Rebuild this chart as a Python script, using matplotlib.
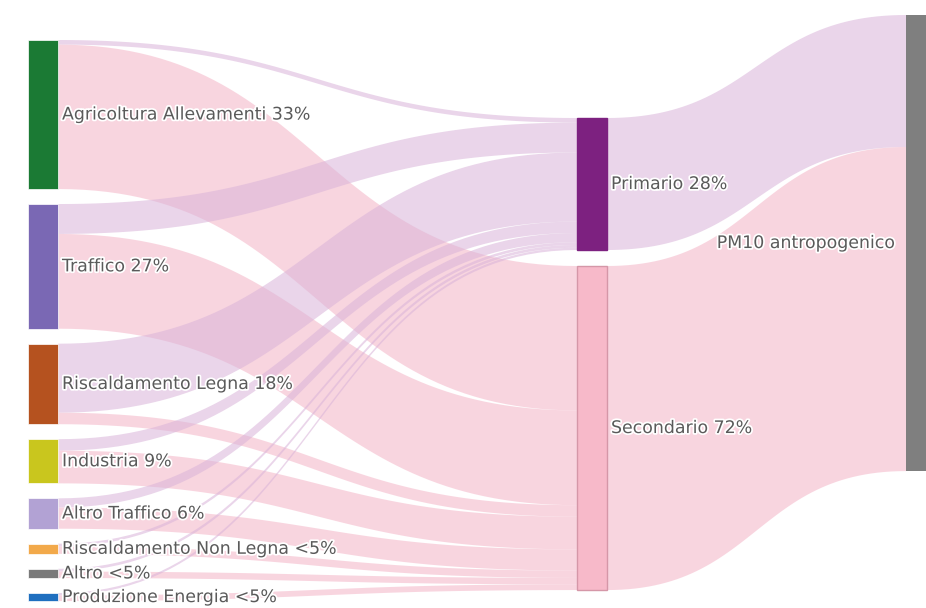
import numpy as np
import matplotlib.pyplot as plt
import matplotlib.patheffects as pe

# Sources (left column)
src_labels = ["Agricoltura Allevamenti 33%", "Traffico 27%", "Riscaldamento Legna 18%",
              "Industria 9%", "Altro Traffico 6%", "Riscaldamento Non Legna <5%",
              "Altro <5%", "Produzione Energia <5%"]
src_colors = ["#1b7a34", "#7a68b4", "#b5521f", "#c9c61e", "#b2a2d4", "#f2a94a",
              "#7a7a7a", "#1f6fbf"]
to_primario = [1.0, 6.5, 15.0, 2.5, 2.0, 0.6, 0.6, 0.5]
to_secondario = [31.4, 20.6, 2.5, 7.1, 4.6, 1.6, 1.4, 1.25]

# Middle and right nodes
mid_labels = ["Primario 28%", "Secondario 72%"]
mid_colors = ["#7d2180", "#f7b9c9"]
link_colors = ["#d9b3d9", "#f4b3c6"]
end_label = "PM10 antropogenico"
end_color = "#7f7f7f"

# layout (pixels)
W, H = 926, 608
scale = 4.6
node_w = 30
x_left, x_mid, x_right = 28, 577, 906
left_top, gap = 40, 15
mid_tops = [118, 266]
right_top = 15

fig = plt.figure(figsize=(W / 100, H / 100), dpi=100)
ax = fig.add_axes([0, 0, 1, 1])
ax.set_xlim(0, W)
ax.set_ylim(H, 0)
ax.axis("off")

halo = [pe.withStroke(linewidth=2.5, foreground="white")]
fs = 12.5
txt_col = "#5a5a5a"


def band(xa, ya0, ya1, xb, yb0, yb1, color):
    t = np.linspace(0, 1, 60)
    xm = (xa + xb) / 2
    bx = (1 - t) ** 3 * xa + 3 * (1 - t) ** 2 * t * xm + 3 * (1 - t) * t ** 2 * xm + t ** 3 * xb
    def by(p, q):
        return (1 - t) ** 3 * p + 3 * (1 - t) ** 2 * t * p + 3 * (1 - t) * t ** 2 * q + t ** 3 * q
    top = by(ya0, yb0)
    bot = by(ya1, yb1)
    ax.fill(np.concatenate([bx, bx[::-1]]), np.concatenate([top, bot[::-1]]),
            color=color, alpha=0.55, lw=0, zorder=1)


flows = np.array([to_primario, to_secondario]).T
src_tot = flows.sum(axis=1)
mid_tot = flows.sum(axis=0)

# left node positions
src_top = []
y = left_top
for v in src_tot:
    src_top.append(y)
    y += v * scale + gap

# links left -> middle
mid_cursor = list(mid_tops)
for i in range(len(src_labels)):
    yc = src_top[i]
    for j in range(2):
        h = flows[i, j] * scale
        band(x_left + node_w, yc, yc + h, x_mid, mid_cursor[j], mid_cursor[j] + h, link_colors[j])
        yc += h
        mid_cursor[j] += h

# links middle -> right
yr = right_top
for j in range(2):
    h = mid_tot[j] * scale
    band(x_mid + node_w, mid_tops[j], mid_tops[j] + h, x_right, yr, yr + h, link_colors[j])
    yr += h

# nodes
for i, lab in enumerate(src_labels):
    h = src_tot[i] * scale
    ax.add_patch(plt.Rectangle((x_left, src_top[i]), node_w, h, fc=src_colors[i],
                               ec="white", lw=0.5, zorder=3))
    ax.text(x_left + node_w + 4, src_top[i] + h / 2, lab, va="center", ha="left",
            fontsize=fs, color=txt_col, path_effects=halo, zorder=4)

for j, lab in enumerate(mid_labels):
    h = mid_tot[j] * scale
    ec = "#d597a8" if j == 1 else mid_colors[j]
    ax.add_patch(plt.Rectangle((x_mid, mid_tops[j]), node_w, h, fc=mid_colors[j],
                               ec=ec, lw=1, zorder=3))
    ax.text(x_mid + node_w + 4, mid_tops[j] + h / 2, lab, va="center", ha="left",
            fontsize=fs, color=txt_col, path_effects=halo, zorder=4)

h = mid_tot.sum() * scale
ax.add_patch(plt.Rectangle((x_right, right_top), node_w, h, fc=end_color, lw=0, zorder=3))
ax.text(x_right - 10, right_top + h / 2, end_label, va="center", ha="right",
        fontsize=fs, color=txt_col, path_effects=halo, zorder=4)

fig.savefig("out.png", dpi=100)
